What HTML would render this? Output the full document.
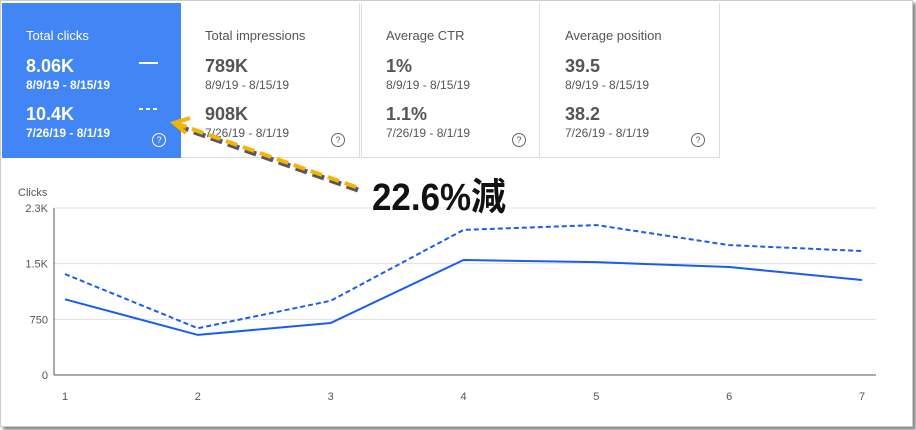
<!DOCTYPE html>
<html><head><meta charset="utf-8"><style>
body{margin:0;width:916px;height:430px;overflow:hidden;background:#fff;font-family:"Liberation Sans","Noto Sans CJK JP",sans-serif}
.frame{position:absolute;left:0;top:0;width:911px;height:425px;border:1px solid #ccc;box-shadow:3px 3px 3px #888;background:#fff}
.card{position:absolute;top:3px;width:179px;height:155px;border-right:1px solid #ddd;border-bottom:1px solid #ddd;color:#555;box-sizing:border-box}
.card .t{position:absolute;left:24px;top:25px;font-size:13px}
.card .v{position:absolute;left:24px;font-size:18px;font-weight:bold}
.card .d{position:absolute;left:24px;font-size:12px}
.q{position:absolute;left:150px;top:130px;width:12px;height:12px;border:1px solid #666;border-radius:50%;font-size:9px;text-align:center;line-height:12px}
</style></head><body>
<div class="frame"></div>
<div class="card" style="left:2px;background:#4285f4;color:#fff;border:none">
<div class="t">Total clicks</div>
<div class="v" style="top:53px">8.06K</div><div class="d" style="top:75px;font-weight:bold">8/9/19 - 8/15/19</div>
<div style="position:absolute;left:137px;top:59px;width:19px;height:2px;background:#fff"></div>
<div class="v" style="top:101px">10.4K</div><div class="d" style="top:123px;font-weight:bold">7/26/19 - 8/1/19</div>
<svg style="position:absolute;left:137px;top:105px" width="20" height="3"><line x1="0" y1="1" x2="20" y2="1" stroke="#fff" stroke-width="2" stroke-dasharray="4,3"/></svg>
<div class="q" style="border-color:#fff">?</div></div>
<div class="card" style="left:181px">
<div class="t">Total impressions</div><div class="v" style="top:53px">789K</div><div class="d" style="top:75px">8/9/19 - 8/15/19</div>
<div class="v" style="top:101px">908K</div><div class="d" style="top:123px">7/26/19 - 8/1/19</div><div class="q">?</div></div>
<div class="card" style="left:361px;border-left:1px solid #ddd">
<div class="t">Average CTR</div><div class="v" style="top:53px">1%</div><div class="d" style="top:75px">8/9/19 - 8/15/19</div>
<div class="v" style="top:101px">1.1%</div><div class="d" style="top:123px">7/26/19 - 8/1/19</div><div class="q">?</div></div>
<div class="card" style="left:541px">
<div class="t">Average position</div><div class="v" style="top:53px">39.5</div><div class="d" style="top:75px">8/9/19 - 8/15/19</div>
<div class="v" style="top:101px">38.2</div><div class="d" style="top:123px">7/26/19 - 8/1/19</div><div class="q">?</div></div>
<svg id="c" width="916" height="430" style="position:absolute;left:0;top:0"></svg>
<script>
const categories=["1","2","3","4","5","6","7"];
const currentClicks=[1020,540,700,1550,1520,1455,1280];
const previousClicks=[1360,630,1000,1955,2020,1750,1670];
const yTicks=[0,750,1500,2250];
const yTickLabels=["0","750","1.5K","2.3K"];
const NS="http://www.w3.org/2000/svg",svg=document.getElementById('c');
const y=v=>375-v*(167/2250),x=i=>65+i*(797/6);
function mk(t,a,txt){const e=document.createElementNS(NS,t);for(const k in a)e.setAttribute(k,a[k]);if(txt!=null)e.textContent=txt;svg.appendChild(e);return e;}
yTicks.forEach((v,i)=>{const g=mk('line',{x1:54,x2:876,y1:y(v),y2:y(v),stroke:i?'#e0e0e0':'#555','stroke-width':1});


const t=mk('text',{x:48,y:y(v)+4,'text-anchor':'end','font-size':11,fill:'#555','font-family':'Liberation Sans'},yTickLabels[i]);

});
const ax=mk('line',{x1:54,x2:54,y1:208,y2:375,stroke:'#555'});


const yt=mk('text',{x:18,y:196,'font-size':11,fill:'#555','font-family':'Liberation Sans'},'Clicks');


categories.forEach((c,i)=>{const t=mk('text',{x:x(i),y:400,'text-anchor':'middle','font-size':11,fill:'#555','font-family':'Liberation Sans'},c);

});
const pts=a=>a.map((v,i)=>x(i)+','+y(v)).join(' ');
const l2=mk('polyline',{points:pts(previousClicks),fill:'none',stroke:'#1a5cf0','stroke-width':2,'stroke-dasharray':'5,3'});


const l1=mk('polyline',{points:pts(currentClicks),fill:'none',stroke:'#1a5cf0','stroke-width':2});


const as=mk('line',{x1:358,y1:190,x2:180,y2:127,stroke:'#556','stroke-width':5,'stroke-dasharray':'12,6'});


const a=mk('line',{x1:356,y1:187,x2:178,y2:124,stroke:'#f5b400','stroke-width':4,'stroke-dasharray':'12,6'});


const ah=mk('polyline',{points:'190,118 174,123 186,133',fill:'none',stroke:'#f5b400','stroke-width':4});


const an=mk('text',{x:372,y:210,'font-size':38,'font-weight':'bold',fill:'#111','font-family':'Liberation Sans Narrow, Liberation Sans, Noto Sans CJK JP, sans-serif',textLength:134,lengthAdjust:'spacingAndGlyphs'},'22.6%減');


</script>
</body></html>
